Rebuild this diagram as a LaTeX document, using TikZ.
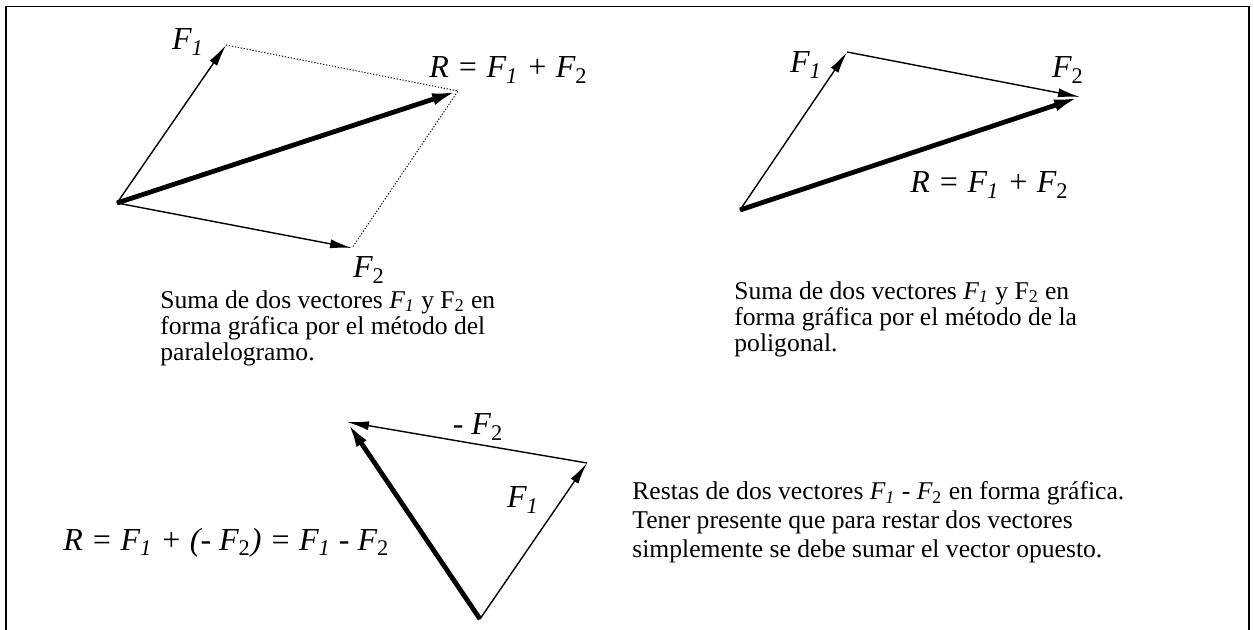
\documentclass[tikz,border=0pt]{standalone}
\usepackage{fontspec}
\setmainfont{Liberation Serif}
\usetikzlibrary{arrows.meta}

\newcommand{\Funo}{F\textsubscript{\itshape 1}}
\newcommand{\Fdos}{F\textsubscript{\upshape 2}}

\begin{document}
\begin{tikzpicture}[
    x=0.5pt,
    y=-0.5pt,
    vec/.style={
        draw,
        line width=0.7pt,
        -{Latex[length=11pt,width=4.5pt]}
    },
    resultant/.style={
        draw,
        line width=2.4pt,
        -{Latex[length=13pt,width=6pt]}
    },
    helper/.style={
        draw,
        line width=0.5pt,
        dash pattern=on 0.6pt off 0.9pt
    },
    lbl/.style={
        font=\fontsize{16}{19}\selectfont\itshape,
        inner sep=0pt
    },
    caption/.style={
        font=\fontsize{12.8}{13.2}\selectfont,
        align=left,
        anchor=base west,
        inner sep=0pt
    }
]
    \useasboundingbox (0,0) rectangle (1254,630);

    % frame
    \draw[line width=0.9pt] (5.8,630) -- (5.8,6.5) -- (1249,6.5) -- (1249,630);

    % parallelogram
    \coordinate (o1) at (117,203);
    \coordinate (p1) at (226,45);
    \coordinate (q1) at (352,248);
    \coordinate (r1) at (458,91);

    \path[helper] (p1) -- (r1) -- (q1);
    \path[vec] (o1) -- (p1);
    \path[vec] (o1) -- (q1);
    \path[resultant] (o1) -- (r1);

    \node[lbl] (f1a) at (188,42) {\Funo};
    \node[lbl] (f2a) at (369,270) {\Fdos};
    \node[lbl,anchor=west] (ra) at (429,70) {R = \Funo{} + \Fdos};

    % base of a caption node = baseline of its last line
    \node[caption] (capa) at (160,361) {Suma de dos vectores \textit{\Funo} y F\textsubscript{2} en\\forma gráfica por el método del\\paralelogramo.};

    % polygon
    \coordinate (o2) at (740,210);
    \coordinate (p2) at (847,52);
    \coordinate (r2) at (1080,97);

    \path[vec] (o2) -- (p2);
    \path[vec] (p2) -- (r2);
    \path[resultant] (o2) -- (r2);

    \node[lbl] (f1b) at (806,65) {\Funo};
    \node[lbl] (f2b) at (1068,70) {\Fdos};
    \node[lbl,anchor=west] (rb) at (910,185) {R = \Funo{} + \Fdos};

    \node[caption] (capb) at (734,352) {Suma de dos vectores \textit{\Funo} y F\textsubscript{2} en\\forma gráfica por el método de la\\poligonal.};

    % difference
    \coordinate (o3) at (480,619);
    \coordinate (p3) at (587,463);
    \coordinate (r3) at (347,422);

    \path[vec] (o3) -- (p3);
    \path[vec] (p3) -- (r3);
    \path[resultant] (o3) -- (r3);

    \node[lbl] (f2c) at (478,427) {- \Fdos};
    \node[lbl] (f1c) at (523,500) {\Funo};
    \node[lbl,anchor=west] (rc) at (63,543) {R = \Funo{} + (- \Fdos) = \Funo{} - \Fdos};

    \node[caption,font=\fontsize{12.8}{14.5}\selectfont] (capc) at (632,558) {Restas de dos vectores \textit{\Funo{} - \Fdos} en forma gráfica.\\Tener presente que para restar dos vectores\\simplemente se debe sumar el vector opuesto.};
\end{tikzpicture}
\end{document}
